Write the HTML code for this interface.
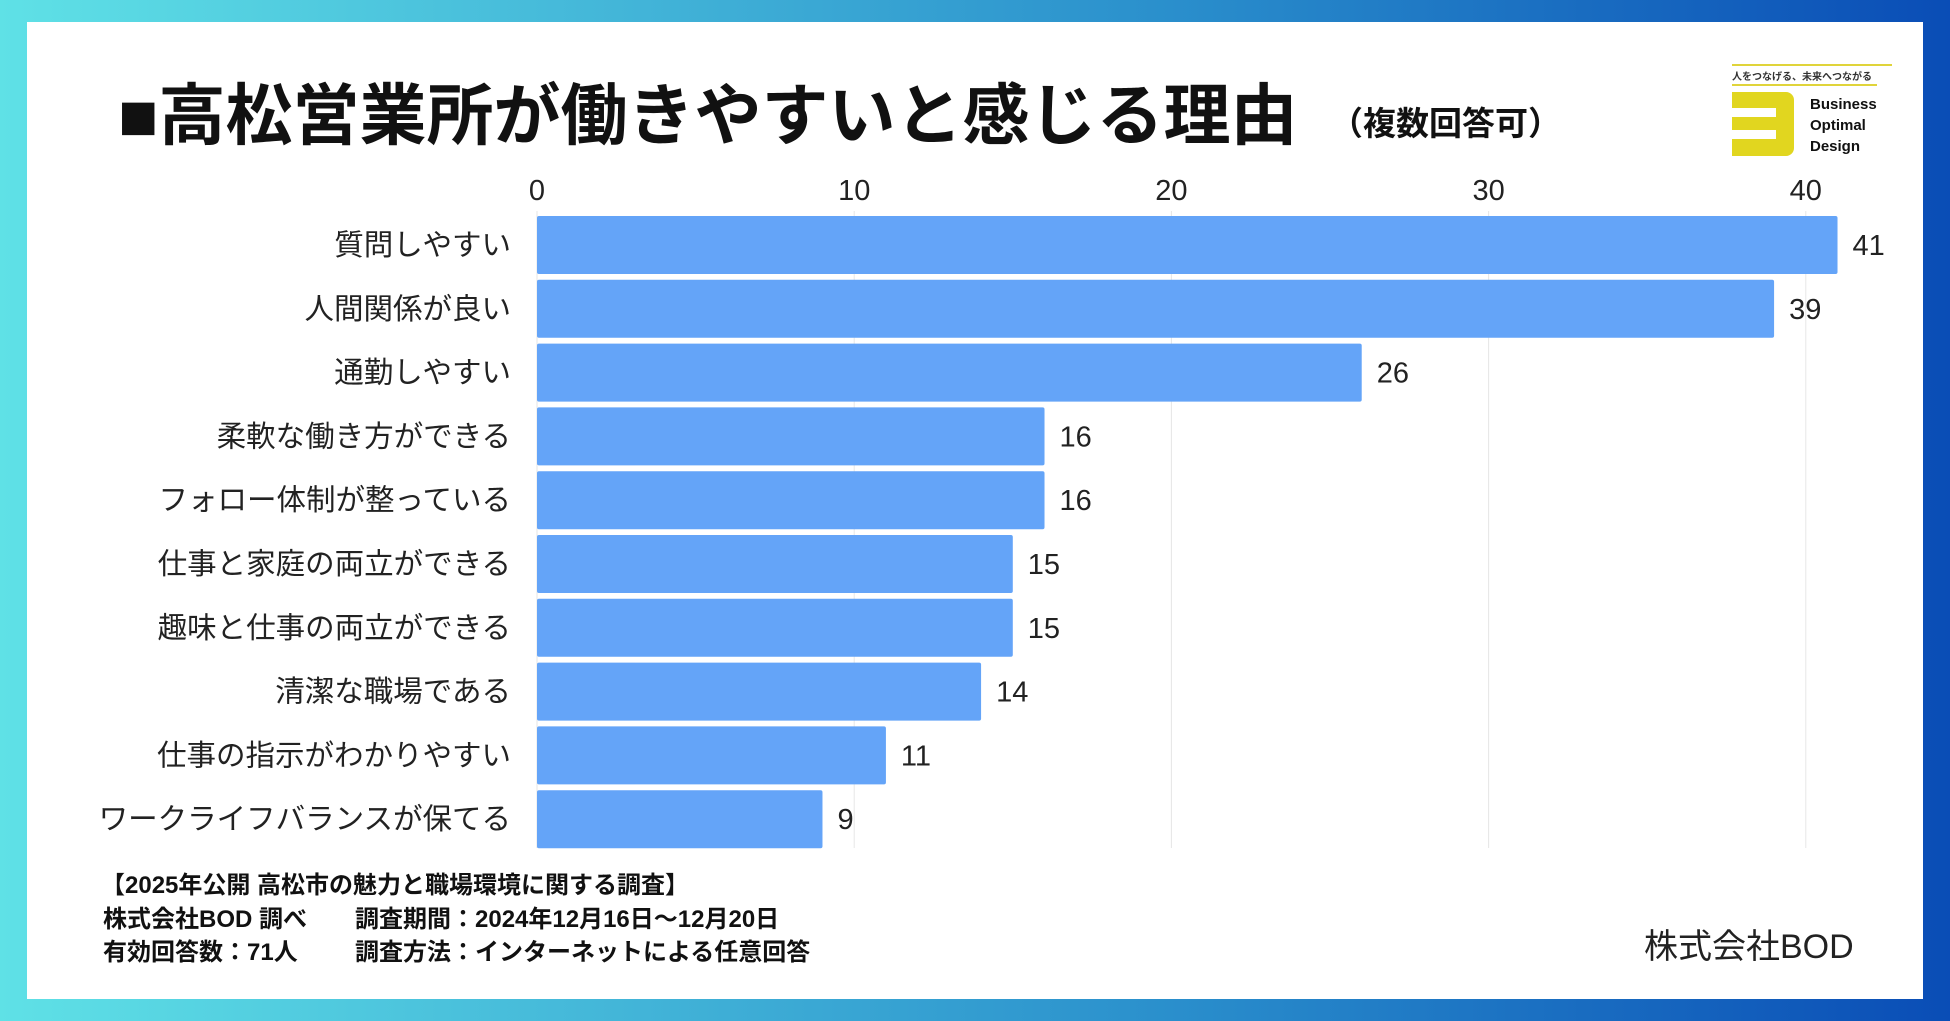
<!DOCTYPE html>
<html><head><meta charset="utf-8">
<style>
body{margin:0;width:1950px;height:1021px;overflow:hidden;background:linear-gradient(90deg,#5fe1e6 0%,#2a8fcc 60%,#0a4db6 100%);font-family:"Liberation Sans","Noto Sans CJK JP",sans-serif;}
#card{position:absolute;left:27px;top:22px;width:1896px;height:977px;background:#fff;}
.t{position:absolute;white-space:nowrap;color:#111;}
</style></head><body>
<div id="card"></div>
<div class="t" style="left:118px;top:77px;font-size:67px;font-weight:bold;line-height:80px;letter-spacing:0px">■高松営業所が働きやすいと感じる理由</div>
<div class="t" style="left:1330px;top:104px;font-size:33px;font-weight:bold;line-height:40px">（複数回答可）</div>
<div style="position:absolute;left:1732px;top:62px;width:162px;height:100px;">
 <div style="position:absolute;left:0;top:2px;width:160px;height:2px;background:#e0d43a"></div>
 <div class="t" style="left:0;top:6px;font-size:10px;font-weight:bold;color:#333">人をつなげる、未来へつながる</div>
 <div style="position:absolute;left:0;top:22px;width:145px;height:2px;background:#e0d43a"></div>
 <div style="position:absolute;left:0;top:30px;width:62px;height:64px;background:#e1d61f;border-radius:0 8px 8px 0"></div>
 <div style="position:absolute;left:0;top:46px;width:44px;height:9px;background:#fff"></div>
 <div style="position:absolute;left:0;top:68px;width:44px;height:9px;background:#fff"></div>
 <div class="t" style="left:78px;top:32px;font-size:15px;font-weight:bold;line-height:21px;color:#111">Business<br>Optimal<br>Design</div>
</div>
<svg id="chart" width="1950" height="1021" style="position:absolute;left:0;top:0"></svg>
<div class="t" style="left:101px;top:872px;font-size:24px;font-weight:bold;line-height:28px">【2025年公開 高松市の魅力と職場環境に関する調査】</div>
<div class="t" style="left:103px;top:906px;font-size:24px;font-weight:bold;line-height:28px">株式会社BOD 調べ</div>
<div class="t" style="left:355px;top:906px;font-size:24px;font-weight:bold;line-height:28px">調査期間：2024年12月16日～12月20日</div>
<div class="t" style="left:103px;top:939px;font-size:24px;font-weight:bold;line-height:28px">有効回答数：71人</div>
<div class="t" style="left:355px;top:939px;font-size:24px;font-weight:bold;line-height:28px">調査方法：インターネットによる任意回答</div>
<div class="t" style="left:1644px;top:927px;font-size:34px;line-height:40px;color:#222">株式会社BOD</div>
<script>
const categories=["質問しやすい","人間関係が良い","通勤しやすい","柔軟な働き方ができる","フォロー体制が整っている","仕事と家庭の両立ができる","趣味と仕事の両立ができる","清潔な職場である","仕事の指示がわかりやすい","ワークライフバランスが保てる"];
const values=[41,39,26,16,16,15,15,14,11,9];
const ticks=[0,10,20,30,40];
const NS="http://www.w3.org/2000/svg";
const svg=document.getElementById('chart');
const x0=537,unit=31.72,top0=216,pitch=63.8,bh=58;
const xs=v=>x0+v*unit;
const ys=i=>top0+i*pitch;
function mk(t,a){const e=document.createElementNS(NS,t);for(const k in a)e.setAttribute(k,a[k]);svg.appendChild(e);return e;}
ticks.forEach(t=>{
 const g=mk('line',{x1:xs(t),x2:xs(t),y1:211,y2:848,stroke:'#e6e6e6','stroke-width':1});
 
 
 const l=mk('text',{x:xs(t),y:200,'text-anchor':'middle','font-size':29,fill:'#222','font-family':'Liberation Sans, Noto Sans CJK JP, sans-serif'});
 l.textContent=t;
 
 
});
categories.forEach((c,i)=>{
 const y=ys(i);
 const b=mk('rect',{x:x0,y:y,width:xs(values[i])-x0,height:bh,fill:'#64a4f8',rx:2});
 
 
 const cl=mk('text',{x:511,y:y+bh/2+10,'text-anchor':'end','font-size':29.5,fill:'#222','font-family':'Liberation Sans, Noto Sans CJK JP, sans-serif'});
 cl.textContent=c;
 
 
 const vl=mk('text',{x:xs(values[i])+15,y:y+bh/2+10,'font-size':29,fill:'#222','font-family':'Liberation Sans, Noto Sans CJK JP, sans-serif'});
 vl.textContent=values[i];
 
 
});
</script>
</body></html>
